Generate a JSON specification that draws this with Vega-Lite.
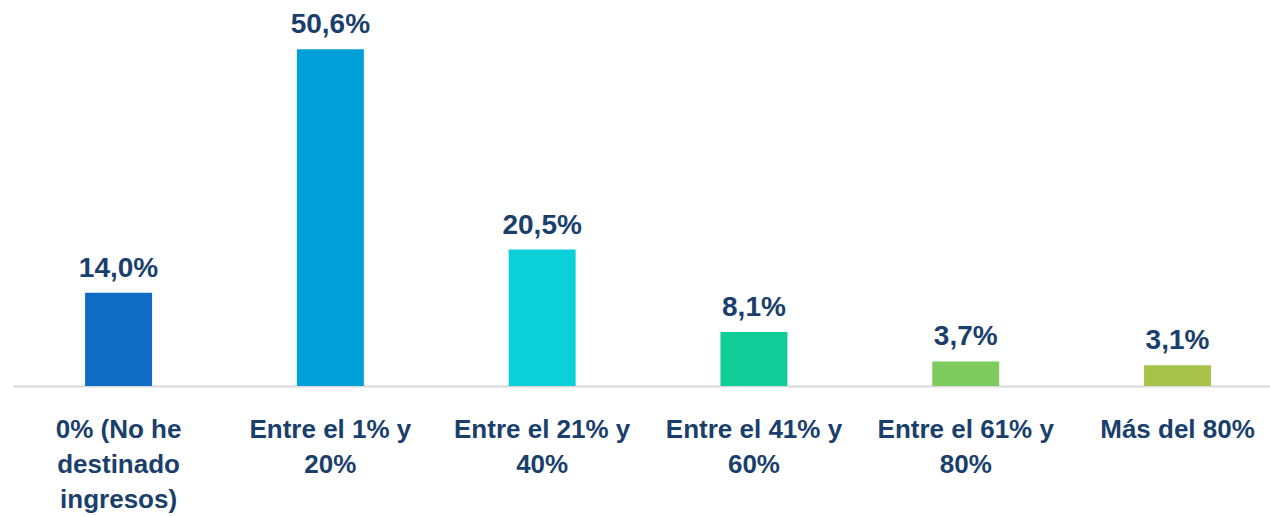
{
  "$schema": "https://vega.github.io/schema/vega-lite/v6.json",
  "width": 1257,
  "height": 386,
  "autosize": {"type": "none"},
  "padding": {"left": 13, "top": 0, "right": 0, "bottom": 130},
  "background": "white",
  "config": {
    "view": {"stroke": null},
    "locale": {"number": {"decimal": ",", "thousands": ".", "grouping": [3], "currency": ["", " €"]}},
    "font": "Liberation Sans"
  },
  "data": {
    "values": [
      {"categoria": "0% (No he\ndestinado\ningresos)", "valor": 0.140},
      {"categoria": "Entre el 1% y\n20%", "valor": 0.506},
      {"categoria": "Entre el 21% y\n40%", "valor": 0.205},
      {"categoria": "Entre el 41% y\n60%", "valor": 0.081},
      {"categoria": "Entre el 61% y\n80%", "valor": 0.037},
      {"categoria": "Más del 80%", "valor": 0.031}
    ]
  },
  "encoding": {
    "x": {
      "field": "categoria",
      "type": "nominal",
      "sort": null,
      "scale": {"paddingInner": 0.6837, "paddingOuter": 0.3094, "align": 0.55},
      "axis": {
        "title": null,
        "labelAngle": 0,
        "ticks": false,
        "domainColor": "#D9D9D9",
        "domainWidth": 2,
        "labelFont": "Liberation Sans",
        "labelFontWeight": "bold",
        "labelFontSize": 26,
        "labelColor": "#1B3F6C",
        "labelPadding": 30,
        "labelLineHeight": 35,
        "labelBaseline": "top",
        "labelLimit": 0,
        "labelExpr": "split(datum.value, '\\n')"
      }
    },
    "y": {
      "field": "valor",
      "type": "quantitative",
      "scale": {"domain": [0, 0.58], "nice": false},
      "axis": null
    }
  },
  "layer": [
    {
      "mark": {"type": "bar"},
      "encoding": {
        "color": {
          "field": "categoria",
          "type": "nominal",
          "sort": null,
          "scale": {"range": ["#0F6CC4", "#009FD9", "#0BCFD9", "#11CE98", "#7ECC60", "#A7C34A"]},
          "legend": null
        }
      }
    },
    {
      "mark": {"type": "text", "baseline": "alphabetic", "dy": -16, "fontSize": 28, "fontWeight": "bold", "color": "#1B3F6C", "font": "Liberation Sans"},
      "encoding": {
        "text": {"field": "valor", "type": "quantitative", "format": ".1%"}
      }
    }
  ]
}
